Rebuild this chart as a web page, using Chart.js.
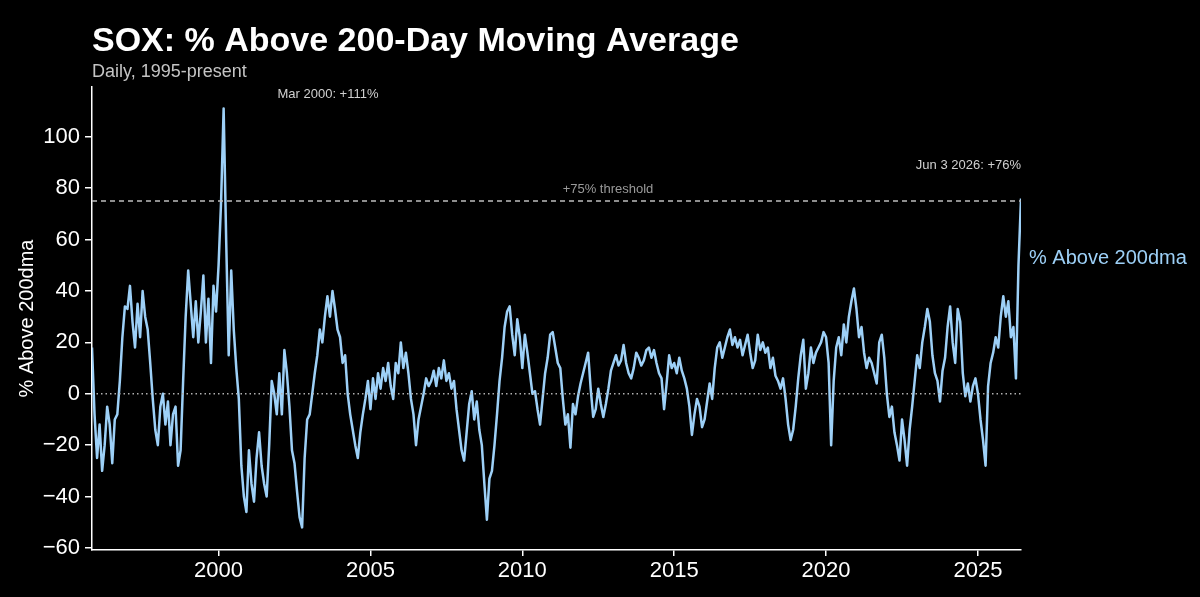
<!DOCTYPE html>
<html lang="en">
<head>
<meta charset="utf-8">
<title>SOX: % Above 200-Day Moving Average</title>
<script src="https://cdn.jsdelivr.net/npm/chart.js@4.4.1/dist/chart.umd.min.js"></script>
<style>
  html, body { margin: 0; padding: 0; background: #000; }
  #wrap { width: 1200px; height: 597px; position: relative; }
</style>
</head>
<body>
<div id="wrap"><canvas id="chartSox"></canvas></div>

<script>
  // monthly readings of the SOX % above its 200-day average, Nov 1995 .. Jun 2026
  var startYear = 1995;
  var startMonth = 11;
  var v1995 = [18, -8];
  var v1996 = [-25, -12, -30, -20, -5, -12, -27, -10, -8, 5, 22, 34];
  var v1997 = [33, 42, 28, 18, 35, 22, 40, 30, 25, 12, -2, -14];
  var v1998 = [-20, -5, 0, -12, -3, -20, -8, -5, -28, -22, 5, 30];
  var v1999 = [48, 35, 22, 36, 20, 32, 46, 20, 37, 12, 42, 32];
  var v2000 = [50, 75, 111, 60, 15, 48, 25, 10, -2, -28, -40, -46];
  var v2001 = [-22, -35, -42, -25, -15, -28, -35, -40, -20, 5, 0, -8];
  var v2002 = [8, -8, 17, 8, -5, -22, -27, -38, -48, -52, -25, -10];
  var v2003 = [-8, 0, 8, 15, 25, 20, 30, 38, 30, 40, 33, 25];
  var v2004 = [22, 12, 15, 0, -8, -14, -20, -25, -15, -8, -2, 5];
  var v2005 = [-6, 6, -2, 8, 2, 10, 5, 12, 3, -2, 12, 8];
  var v2006 = [20, 10, 16, 8, -2, -8, -20, -10, -5, 0, 6, 3];
  var v2007 = [5, 9, 3, 10, 6, 13, 5, 8, 2, 5, -6, -14];
  var v2008 = [-22, -26, -15, -4, 1, -10, -3, -14, -20, -35, -49, -33];
  var v2009 = [-30, -20, -8, 5, 14, 26, 32, 34, 23, 15, 29, 22];
  var v2010 = [10, 23, 16, 8, 0, 1, -6, -12, -2, 8, 14, 23];
  var v2011 = [24, 18, 12, 10, -2, -12, -8, -21, -4, -8, -1, 4];
  var v2012 = [8, 12, 16, 2, -9, -6, 2, -4, -9, -4, 2, 9];
  var v2013 = [12, 15, 11, 13, 19, 12, 8, 6, 10, 16, 14, 11];
  var v2014 = [13, 17, 18, 14, 17, 12, 8, 6, -6, 4, 15, 10];
  var v2015 = [12, 8, 14, 9, 6, 2, -5, -16, -8, -2, -5, -13];
  var v2016 = [-10, -3, 4, -2, 10, 18, 20, 14, 18, 22, 25, 19];
  var v2017 = [22, 18, 21, 15, 19, 23, 16, 10, 13, 23, 17, 20];
  var v2018 = [16, 18, 10, 14, 7, 5, 2, 6, -2, -12, -18, -14];
  var v2019 = [-5, 6, 15, 21, 2, 8, 18, 12, 16, 18, 20, 24];
  var v2020 = [22, 12, -20, 5, 18, 22, 15, 27, 20, 30, 36, 41];
  var v2021 = [33, 22, 26, 16, 10, 14, 12, 8, 4, 20, 23, 14];
  var v2022 = [0, -9, -5, -15, -20, -26, -10, -18, -28, -14, -5, 5];
  var v2023 = [15, 10, 20, 26, 33, 28, 15, 8, 5, -3, 9, 14];
  var v2024 = [26, 34, 20, 12, 33, 28, 8, -1, 4, -3, 3, 6];
  var v2025 = [0, -10, -18, -28, 3, 12, 16, 22, 18, 30, 38, 30];
  var v2026 = [36, 22, 26, 6, 50, 76];

  var xTicks = [2000, 2005, 2010, 2015, 2020, 2025];
  var yTicks = [-60, -40, -20, 0, 20, 40, 60, 80, 100];
  var threshold = 75;
  var yMin = -60.8;
  var yMax = 119.4;

  var values = [].concat(v1995, v1996, v1997, v1998, v1999, v2000, v2001, v2002,
    v2003, v2004, v2005, v2006, v2007, v2008, v2009, v2010, v2011, v2012, v2013,
    v2014, v2015, v2016, v2017, v2018, v2019, v2020, v2021, v2022, v2023, v2024,
    v2025, v2026);

  // x as decimal year (month start)
  var points = values.map(function (v, i) {
    return { x: startYear + (startMonth - 1 + i) / 12, y: v };
  });
  var xFirst = points[0].x;
  var xLast = points[points.length - 1].x;

  var FONT = '"Liberation Sans", Arial, Helvetica, sans-serif';
  var lineBlue = '#9dd0f7';

  // titles, notes and the end label
  var textPlugin = {
    id: 'textos',
    afterDraw: function (chart) {
      var ctx = chart.ctx;
      var area = chart.chartArea;
      ctx.save();
      ctx.textBaseline = 'alphabetic';
      ctx.textAlign = 'left';

      ctx.fillStyle = '#ffffff';
      ctx.font = 'bold 34px ' + FONT;
      ctx.fillText('SOX: % Above 200-Day Moving Average', area.left, 51);

      ctx.fillStyle = '#c4c4c4';
      ctx.font = '18px ' + FONT;
      ctx.fillText('Daily, 1995-present', area.left, 77);

      ctx.font = '13px ' + FONT;
      ctx.fillStyle = '#d0d0d0';
      ctx.textAlign = 'center';
      ctx.fillText('Mar 2000: +111%', 328, 98);

      ctx.textAlign = 'right';
      ctx.fillText('Jun 3 2026: +76%', area.right, 169);

      ctx.fillStyle = '#9a9a9a';
      ctx.textAlign = 'center';
      ctx.fillText('+75% threshold', 608, 193);

      ctx.fillStyle = lineBlue;
      ctx.textAlign = 'left';
      ctx.font = '20px ' + FONT;
      ctx.fillText('% Above 200dma', 1029, 264);
      ctx.restore();
    }
  };

  var ctxSox = document.getElementById('chartSox').getContext('2d');
  var configSox = {
    type: 'line',
    data: {
      datasets: [
        {
          label: 'zero',
          data: [{ x: xFirst, y: 0 }, { x: xLast, y: 0 }],
          borderColor: '#b0b0b0',
          borderWidth: 1.5,
          borderDash: [1.5, 3],
          pointRadius: 0,
          order: 0
        },
        {
          label: 'threshold',
          data: [{ x: xFirst, y: threshold }, { x: xLast, y: threshold }],
          borderColor: '#bdbdbd',
          borderWidth: 1.5,
          borderDash: [5, 4],
          pointRadius: 0,
          order: 0
        },
        {
          label: '% Above 200dma',
          data: points,
          borderColor: lineBlue,
          borderWidth: 2.5,
          borderJoinStyle: 'round',
          pointRadius: 0,
          tension: 0,
          order: 1
        }
      ]
    },
    options: {
      responsive: true,
      maintainAspectRatio: false,
      animation: false,
      layout: { padding: { top: 87, right: 179, bottom: 0, left: 0 } },
      plugins: {
        legend: { display: false },
        tooltip: { enabled: false }
      },
      scales: {
        x: {
          type: 'linear',
          min: xFirst,
          max: xLast,
          afterFit: function (scale) { scale.height = 47; },
          afterBuildTicks: function (scale) {
            scale.ticks = xTicks.map(function (v) { return { value: v }; });
          },
          ticks: {
            color: '#ffffff',
            font: { family: FONT, size: 22 },
            padding: 2,
            maxRotation: 0,
            callback: function (v) { return String(v); }
          },
          grid: { drawOnChartArea: false, color: '#ffffff', tickLength: 6, lineWidth: 1.5 },
          border: { color: '#ffffff', width: 1.5 }
        },
        y: {
          min: yMin,
          max: yMax,
          afterFit: function (scale) { scale.width = 92; },
          afterBuildTicks: function (scale) {
            scale.ticks = yTicks.map(function (v) { return { value: v }; });
          },
          ticks: {
            color: '#ffffff',
            font: { family: FONT, size: 22 },
            padding: 5,
            callback: function (v) { return v < 0 ? '\u2212' + Math.abs(v) : String(v); }
          },
          grid: { drawOnChartArea: false, color: '#ffffff', tickLength: 7, lineWidth: 1.5 },
          border: { color: '#ffffff', width: 1.5 },
          title: {
            display: true,
            text: '% Above 200dma',
            color: '#ffffff',
            font: { family: FONT, size: 20 },
            padding: { top: 15, bottom: 0 }
          }
        }
      }
    },
    plugins: [textPlugin]
  };

  var chartSox = new Chart(ctxSox, configSox);
</script>
</body>
</html>
